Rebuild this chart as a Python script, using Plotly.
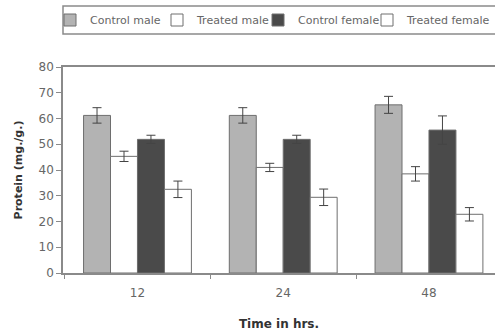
import plotly.graph_objects as go

categories = ["12", "24", "48"]
series_names = ["Control male", "Treated male", "Control female", "Treated female"]
control_male = [61.2, 61.2, 65.3]
treated_male = [45.3, 41.0, 38.5]
control_female = [51.9, 51.9, 55.5]
treated_female = [32.5, 29.4, 22.8]
err_control_male = [3.0, 3.0, 3.3]
err_treated_male = [2.0, 1.6, 2.8]
err_control_female = [1.6, 1.6, 5.5]
err_treated_female = [3.2, 3.2, 2.6]
y_ticks = [0, 10, 20, 30, 40, 50, 60, 70, 80]

values = [control_male, treated_male, control_female, treated_female]
errors = [err_control_male, err_treated_male, err_control_female, err_treated_female]
fills = ["#b3b3b3", "#ffffff", "#4a4a4a", "#ffffff"]

W, H = 495, 333
L, R, T, B = 63, 0, 67, 60
FONT = "DejaVu Sans"

plot_w = W - L - R
plot_h = H - T - B

legend_ids = ["legend", "legend2", "legend3", "legend4"]
legend_px = [50, 157, 258, 367]

fig = go.Figure()
for name, v, e, c, lg in zip(series_names, values, errors, fills, legend_ids):
    fig.add_trace(go.Bar(
        name=name, x=categories, y=v, legend=lg,
        marker=dict(color=c, line=dict(color="#6e6e6e", width=1)),
        error_y=dict(type="data", array=e, visible=True, color="#444444",
                     thickness=1, width=4.5),
    ))

# legend frame (drawn in paper coords)
x0 = 0.0
x1 = (505 - L) / plot_w
y_top = 1 + (T - 6) / plot_h
y_bot = 1 + (T - 34) / plot_h
fig.add_shape(type="rect", xref="paper", yref="paper", x0=x0, x1=x1, y0=y_bot, y1=y_top,
              line=dict(color="#8a8a8a", width=1.5), fillcolor="rgba(0,0,0,0)")

legend_layouts = {}
for lg, px in zip(legend_ids, legend_px):
    legend_layouts[lg] = dict(
        orientation="h", x=(px - L) / plot_w, xanchor="left",
        y=(y_top + y_bot) / 2, yanchor="middle",
        font=dict(size=11, color="#666666", family=FONT),
        borderwidth=0, bgcolor="rgba(0,0,0,0)", itemwidth=30,
    )

fig.update_layout(
    width=W, height=H,
    margin=dict(l=L, r=R, t=T, b=B, pad=0, autoexpand=False),
    paper_bgcolor="white", plot_bgcolor="white",
    barmode="group", bargap=0.26, bargroupgap=0,
    font=dict(family=FONT, color="#555555", size=12),
    showlegend=True,
    **legend_layouts,
    xaxis=dict(
        type="category", range=[-0.511, 2.453],
        showline=True, linecolor="#8a8a8a", linewidth=1.5, mirror=True,
        ticks="outside", tickson="boundaries", ticklen=4, tickcolor="#8a8a8a",
        ticklabelstandoff=8,
        showgrid=False, zeroline=False,
        tickfont=dict(size=12, color="#666666"),
        title=dict(text="<b>Time in hrs.</b>", font=dict(size=12, color="#333333"), standoff=20),
    ),
    yaxis=dict(
        range=[0, 80], tickvals=y_ticks,
        showline=True, linecolor="#8a8a8a", linewidth=1.5,
        ticks="outside", ticklen=5, tickcolor="#8a8a8a",
        showgrid=False, zeroline=False,
        tickfont=dict(size=12, color="#666666"),
        title=dict(text="<b>Protein (mg./g.)</b>", font=dict(size=11, color="#333333"), standoff=14),
    ),
)

fig.write_html("out.html")
